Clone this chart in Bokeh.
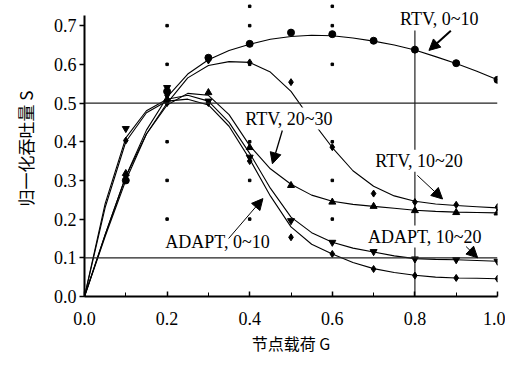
from bokeh.plotting import figure
from bokeh.models import Range1d, FixedTicker, Span, Label, Arrow, NormalHead
from bokeh.embed import file_html
from bokeh.resources import INLINE

# ---- data ----
g_pts = [0.1, 0.2, 0.3, 0.4, 0.5, 0.6, 0.7, 0.8, 0.9, 1.0]
rtv_0_10_pts = [0.30, 0.53, 0.617, 0.653, 0.682, 0.678, 0.661, 0.638, 0.603, 0.56]
rtv_10_20_pts = [0.31, 0.52, 0.61, 0.605, 0.554, 0.386, 0.266, 0.244, 0.237, 0.231]
rtv_20_30_pts = [0.318, 0.51, 0.527, 0.385, 0.287, 0.244, 0.233, 0.222, 0.217, 0.216]
adapt_0_10_pts = [0.403, 0.50, 0.50, 0.35, 0.153, 0.11, 0.071, 0.054, 0.048, 0.046]
adapt_10_20_pts = [0.434, 0.54, 0.505, 0.36, 0.196, 0.14, 0.116, 0.097, 0.095, 0.091]

g_fit = [0.0, 0.05, 0.1, 0.15, 0.2, 0.25, 0.3, 0.35, 0.4, 0.45, 0.5,
         0.55, 0.6, 0.65, 0.7, 0.75, 0.8, 0.85, 0.9, 0.95, 1.0]
rtv_0_10_fit = [0, 0.16, 0.31, 0.43, 0.515, 0.575, 0.612, 0.636, 0.652, 0.665, 0.672,
                0.675, 0.674, 0.668, 0.660, 0.650, 0.637, 0.62, 0.602, 0.582, 0.56]
rtv_10_20_fit = [0, 0.16, 0.31, 0.42, 0.50, 0.565, 0.597, 0.607, 0.605, 0.58, 0.53,
                 0.455, 0.385, 0.325, 0.285, 0.26, 0.246, 0.239, 0.235, 0.232, 0.229]
rtv_20_30_fit = [0, 0.155, 0.30, 0.42, 0.495, 0.525, 0.52, 0.47, 0.39, 0.33, 0.29,
                 0.262, 0.246, 0.238, 0.233, 0.228, 0.223, 0.22, 0.218, 0.217, 0.216]
adapt_0_10_fit = [0, 0.23, 0.40, 0.475, 0.505, 0.51, 0.495, 0.44, 0.355, 0.26, 0.18,
                  0.135, 0.11, 0.088, 0.072, 0.062, 0.055, 0.05, 0.048, 0.047, 0.046]
adapt_10_20_fit = [0, 0.24, 0.41, 0.48, 0.51, 0.52, 0.505, 0.45, 0.37, 0.28, 0.205,
                   0.165, 0.14, 0.125, 0.115, 0.105, 0.098, 0.096, 0.095, 0.093, 0.091]

x_ticks = [0.0, 0.2, 0.4, 0.6, 0.8, 1.0]
x_minor = [0.1, 0.3, 0.5, 0.7, 0.9]
y_ticks = [0.0, 0.1, 0.2, 0.3, 0.4, 0.5, 0.6, 0.7]
dot_x = [0.2, 0.4, 0.6]
dot_y = [0.2, 0.3, 0.4, 0.6, 0.7]
dot_top_x = [0.4, 0.6]
dot_top_y = [0.75, 0.75]

SERIF = "Liberation Serif"
CJK = "Noto Sans CJK SC"

p = figure(width=505, height=371, output_backend="svg", toolbar_location=None,
           x_range=Range1d(0, 1.0), y_range=Range1d(0, 0.765),
           min_border_left=84, min_border_right=8, min_border_top=0, min_border_bottom=75)
p.outline_line_color = None
p.xgrid.visible = False
p.ygrid.visible = False
p.background_fill_color = "white"

for ax in (p.xaxis[0], p.yaxis[0]):
    ax.axis_line_width = 2
    ax.axis_line_color = "black"
    ax.major_tick_line_color = "black"
    ax.minor_tick_line_color = "black"
    ax.major_tick_line_width = 1.5
    ax.major_label_text_font = SERIF
    ax.major_label_text_font_size = "18px"
    ax.major_label_text_color = "black"
    ax.axis_label_text_font = CJK
    ax.axis_label_text_font_style = "normal"
    ax.axis_label_text_font_size = "16px"
    ax.axis_label_text_color = "black"

p.xaxis.ticker = FixedTicker(ticks=x_ticks, minor_ticks=x_minor)
p.xaxis.major_label_overrides = {t: f"{t:.1f}" for t in x_ticks}
p.xaxis.major_tick_in = 5
p.xaxis.major_tick_out = 0
p.xaxis.minor_tick_in = 4
p.xaxis.minor_tick_out = 0
p.xaxis.major_label_standoff = 15
p.xaxis.axis_label = "节点载荷 G"
p.xaxis.axis_label_standoff = 3

p.yaxis.ticker = FixedTicker(ticks=y_ticks, minor_ticks=[])
p.yaxis.bounds = (0, 0.726)
p.yaxis.major_label_overrides = {t: f"{t:.1f}" for t in y_ticks}
p.yaxis.major_tick_in = 0
p.yaxis.major_tick_out = 5
p.yaxis.major_label_standoff = 3
p.yaxis.axis_label = "归一化吞吐量 S"
p.yaxis.axis_label_standoff = 13
p.yaxis.axis_label_text_font_size = "17px"

# grid dots
gx = [x for x in dot_x for _ in dot_y] + dot_top_x
gy = [y for _ in dot_x for y in dot_y] + dot_top_y
p.scatter(gx, gy, marker="square", size=2.5, color="black")

# reference lines
p.add_layout(Span(location=0.5, dimension="width", line_color="#222222", line_width=1.2))
p.add_layout(Span(location=0.1, dimension="width", line_color="#222222", line_width=1.2))
p.line([0.8, 0.8], [0.0, 0.69], line_color="#222222", line_width=1.2)

series = [
    (rtv_0_10_fit, rtv_0_10_pts, "circle"),
    (rtv_10_20_fit, rtv_10_20_pts, "diamond"),
    (rtv_20_30_fit, rtv_20_30_pts, "triangle"),
    (adapt_0_10_fit, adapt_0_10_pts, "diamond"),
    (adapt_10_20_fit, adapt_10_20_pts, "inverted_triangle"),
]
for fit, pts, mk in series:
    p.line(g_fit, fit, line_color="black", line_width=1.1)
    p.scatter(g_pts, pts, marker=mk, size=7, color="black")

# annotations
labels = [
    ("RTV, 0~10", 0.859, 0.716),
    ("RTV, 20~30", 0.495, 0.46),
    ("RTV, 10~20", 0.81, 0.351),
    ("ADAPT, 10~20", 0.824, 0.155),
    ("ADAPT, 0~10", 0.322, 0.14),
]
for txt, lx, ly in labels:
    p.add_layout(Label(x=lx, y=ly, text=txt, text_align="center", text_baseline="middle",
                       text_font=SERIF, text_font_size="18px", text_color="black",
                       background_fill_color="white", padding=1))

arrows = [
    (0.887, 0.687, 0.834, 0.636, 2.0),
    (0.479, 0.429, 0.455, 0.343, 1.3),
    (0.806, 0.313, 0.867, 0.252, 1.0),
    (0.924, 0.129, 0.952, 0.100, 1.0),
    (0.349, 0.150, 0.432, 0.253, 1.0),
]
for xs, ys, xe, ye, lw in arrows:
    p.add_layout(Arrow(x_start=xs, y_start=ys, x_end=xe, y_end=ye, line_width=lw,
                       end=NormalHead(size=11, fill_color="black", line_color="black")))

open("out.html", "w").write(file_html(p, INLINE))
